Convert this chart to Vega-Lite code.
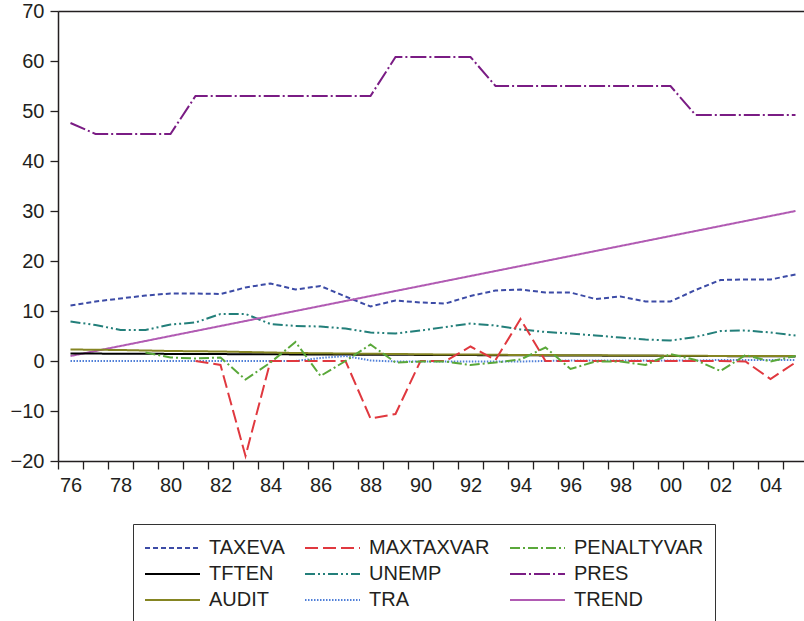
{
  "$schema": "https://vega.github.io/schema/vega-lite/v6.json",
  "autosize": "none",
  "padding": {"left": 58, "top": 11, "right": 0, "bottom": 160},
  "width": 746,
  "height": 450,
  "background": "white",
  "config": {
    "font": "Liberation Sans",
    "view": {"stroke": null},
    "axis": {"labelFont": "Liberation Sans", "labelColor": "#231f20", "domainColor": "#231f20", "tickColor": "#231f20", "domainWidth": 1.5, "tickWidth": 1.3, "grid": false, "title": null}
  },
  "data": {"values": [
    {"series":"TAXEVA","year":1976,"value":11.1},{"series":"TAXEVA","year":1977,"value":11.9},{"series":"TAXEVA","year":1978,"value":12.5},{"series":"TAXEVA","year":1979,"value":13.1},{"series":"TAXEVA","year":1980,"value":13.5},{"series":"TAXEVA","year":1981,"value":13.5},{"series":"TAXEVA","year":1982,"value":13.4},{"series":"TAXEVA","year":1983,"value":14.7},{"series":"TAXEVA","year":1984,"value":15.5},{"series":"TAXEVA","year":1985,"value":14.3},{"series":"TAXEVA","year":1986,"value":15.0},{"series":"TAXEVA","year":1987,"value":12.9},{"series":"TAXEVA","year":1988,"value":10.9},{"series":"TAXEVA","year":1989,"value":12.1},{"series":"TAXEVA","year":1990,"value":11.7},{"series":"TAXEVA","year":1991,"value":11.5},{"series":"TAXEVA","year":1992,"value":13.0},{"series":"TAXEVA","year":1993,"value":14.1},{"series":"TAXEVA","year":1994,"value":14.3},{"series":"TAXEVA","year":1995,"value":13.7},{"series":"TAXEVA","year":1996,"value":13.7},{"series":"TAXEVA","year":1997,"value":12.4},{"series":"TAXEVA","year":1998,"value":12.9},{"series":"TAXEVA","year":1999,"value":11.9},{"series":"TAXEVA","year":2000,"value":11.9},{"series":"TAXEVA","year":2001,"value":14.2},{"series":"TAXEVA","year":2002,"value":16.2},{"series":"TAXEVA","year":2003,"value":16.3},{"series":"TAXEVA","year":2004,"value":16.3},{"series":"TAXEVA","year":2005,"value":17.3},
    {"series":"UNEMP","year":1976,"value":7.9},{"series":"UNEMP","year":1977,"value":7.2},{"series":"UNEMP","year":1978,"value":6.2},{"series":"UNEMP","year":1979,"value":6.2},{"series":"UNEMP","year":1980,"value":7.3},{"series":"UNEMP","year":1981,"value":7.7},{"series":"UNEMP","year":1982,"value":9.4},{"series":"UNEMP","year":1983,"value":9.4},{"series":"UNEMP","year":1984,"value":7.4},{"series":"UNEMP","year":1985,"value":7.0},{"series":"UNEMP","year":1986,"value":6.9},{"series":"UNEMP","year":1987,"value":6.5},{"series":"UNEMP","year":1988,"value":5.7},{"series":"UNEMP","year":1989,"value":5.5},{"series":"UNEMP","year":1990,"value":6.1},{"series":"UNEMP","year":1991,"value":6.8},{"series":"UNEMP","year":1992,"value":7.5},{"series":"UNEMP","year":1993,"value":7.1},{"series":"UNEMP","year":1994,"value":6.3},{"series":"UNEMP","year":1995,"value":5.8},{"series":"UNEMP","year":1996,"value":5.5},{"series":"UNEMP","year":1997,"value":5.1},{"series":"UNEMP","year":1998,"value":4.7},{"series":"UNEMP","year":1999,"value":4.3},{"series":"UNEMP","year":2000,"value":4.1},{"series":"UNEMP","year":2001,"value":4.8},{"series":"UNEMP","year":2002,"value":6.0},{"series":"UNEMP","year":2003,"value":6.1},{"series":"UNEMP","year":2004,"value":5.7},{"series":"UNEMP","year":2005,"value":5.1},
    {"series":"PRES","year":1976,"value":47.6},{"series":"PRES","year":1977,"value":45.4},{"series":"PRES","year":1978,"value":45.4},{"series":"PRES","year":1979,"value":45.4},{"series":"PRES","year":1980,"value":45.4},{"series":"PRES","year":1981,"value":53.0},{"series":"PRES","year":1982,"value":53.0},{"series":"PRES","year":1983,"value":53.0},{"series":"PRES","year":1984,"value":53.0},{"series":"PRES","year":1985,"value":53.0},{"series":"PRES","year":1986,"value":53.0},{"series":"PRES","year":1987,"value":53.0},{"series":"PRES","year":1988,"value":53.0},{"series":"PRES","year":1989,"value":60.8},{"series":"PRES","year":1990,"value":60.8},{"series":"PRES","year":1991,"value":60.8},{"series":"PRES","year":1992,"value":60.8},{"series":"PRES","year":1993,"value":55.0},{"series":"PRES","year":1994,"value":55.0},{"series":"PRES","year":1995,"value":55.0},{"series":"PRES","year":1996,"value":55.0},{"series":"PRES","year":1997,"value":55.0},{"series":"PRES","year":1998,"value":55.0},{"series":"PRES","year":1999,"value":55.0},{"series":"PRES","year":2000,"value":55.0},{"series":"PRES","year":2001,"value":49.2},{"series":"PRES","year":2002,"value":49.2},{"series":"PRES","year":2003,"value":49.2},{"series":"PRES","year":2004,"value":49.2},{"series":"PRES","year":2005,"value":49.2},
    {"series":"TREND","year":1976,"value":1},{"series":"TREND","year":1977,"value":2},{"series":"TREND","year":1978,"value":3},{"series":"TREND","year":1979,"value":4},{"series":"TREND","year":1980,"value":5},{"series":"TREND","year":1981,"value":6},{"series":"TREND","year":1982,"value":7},{"series":"TREND","year":1983,"value":8},{"series":"TREND","year":1984,"value":9},{"series":"TREND","year":1985,"value":10},{"series":"TREND","year":1986,"value":11},{"series":"TREND","year":1987,"value":12},{"series":"TREND","year":1988,"value":13},{"series":"TREND","year":1989,"value":14},{"series":"TREND","year":1990,"value":15},{"series":"TREND","year":1991,"value":16},{"series":"TREND","year":1992,"value":17},{"series":"TREND","year":1993,"value":18},{"series":"TREND","year":1994,"value":19},{"series":"TREND","year":1995,"value":20},{"series":"TREND","year":1996,"value":21},{"series":"TREND","year":1997,"value":22},{"series":"TREND","year":1998,"value":23},{"series":"TREND","year":1999,"value":24},{"series":"TREND","year":2000,"value":25},{"series":"TREND","year":2001,"value":26},{"series":"TREND","year":2002,"value":27},{"series":"TREND","year":2003,"value":28},{"series":"TREND","year":2004,"value":29},{"series":"TREND","year":2005,"value":30},
    {"series":"TFTEN","year":1976,"value":1.5},{"series":"TFTEN","year":1977,"value":1.48},{"series":"TFTEN","year":1978,"value":1.46},{"series":"TFTEN","year":1979,"value":1.44},{"series":"TFTEN","year":1980,"value":1.42},{"series":"TFTEN","year":1981,"value":1.4},{"series":"TFTEN","year":1982,"value":1.38},{"series":"TFTEN","year":1983,"value":1.36},{"series":"TFTEN","year":1984,"value":1.34},{"series":"TFTEN","year":1985,"value":1.32},{"series":"TFTEN","year":1986,"value":1.3},{"series":"TFTEN","year":1987,"value":1.28},{"series":"TFTEN","year":1988,"value":1.26},{"series":"TFTEN","year":1989,"value":1.24},{"series":"TFTEN","year":1990,"value":1.22},{"series":"TFTEN","year":1991,"value":1.2},{"series":"TFTEN","year":1992,"value":1.18},{"series":"TFTEN","year":1993,"value":1.16},{"series":"TFTEN","year":1994,"value":1.14},{"series":"TFTEN","year":1995,"value":1.12},{"series":"TFTEN","year":1996,"value":1.1},{"series":"TFTEN","year":1997,"value":1.08},{"series":"TFTEN","year":1998,"value":1.06},{"series":"TFTEN","year":1999,"value":1.04},{"series":"TFTEN","year":2000,"value":1.02},{"series":"TFTEN","year":2001,"value":1.0},{"series":"TFTEN","year":2002,"value":0.98},{"series":"TFTEN","year":2003,"value":0.96},{"series":"TFTEN","year":2004,"value":0.94},{"series":"TFTEN","year":2005,"value":0.92},
    {"series":"AUDIT","year":1976,"value":2.3},{"series":"AUDIT","year":1977,"value":2.25},{"series":"AUDIT","year":1978,"value":2.2},{"series":"AUDIT","year":1979,"value":2.1},{"series":"AUDIT","year":1980,"value":2.0},{"series":"AUDIT","year":1981,"value":1.95},{"series":"AUDIT","year":1982,"value":1.9},{"series":"AUDIT","year":1983,"value":1.8},{"series":"AUDIT","year":1984,"value":1.7},{"series":"AUDIT","year":1985,"value":1.6},{"series":"AUDIT","year":1986,"value":1.55},{"series":"AUDIT","year":1987,"value":1.5},{"series":"AUDIT","year":1988,"value":1.45},{"series":"AUDIT","year":1989,"value":1.4},{"series":"AUDIT","year":1990,"value":1.35},{"series":"AUDIT","year":1991,"value":1.3},{"series":"AUDIT","year":1992,"value":1.3},{"series":"AUDIT","year":1993,"value":1.25},{"series":"AUDIT","year":1994,"value":1.2},{"series":"AUDIT","year":1995,"value":1.2},{"series":"AUDIT","year":1996,"value":1.15},{"series":"AUDIT","year":1997,"value":1.15},{"series":"AUDIT","year":1998,"value":1.1},{"series":"AUDIT","year":1999,"value":1.1},{"series":"AUDIT","year":2000,"value":1.05},{"series":"AUDIT","year":2001,"value":1.05},{"series":"AUDIT","year":2002,"value":1.0},{"series":"AUDIT","year":2003,"value":1.0},{"series":"AUDIT","year":2004,"value":1.0},{"series":"AUDIT","year":2005,"value":1.0},
    {"series":"TRA","year":1976,"value":0},{"series":"TRA","year":1977,"value":0},{"series":"TRA","year":1978,"value":0},{"series":"TRA","year":1979,"value":0},{"series":"TRA","year":1980,"value":0},{"series":"TRA","year":1981,"value":0},{"series":"TRA","year":1982,"value":0},{"series":"TRA","year":1983,"value":0},{"series":"TRA","year":1984,"value":0},{"series":"TRA","year":1985,"value":0},{"series":"TRA","year":1986,"value":0.6},{"series":"TRA","year":1987,"value":1.0},{"series":"TRA","year":1988,"value":0.1},{"series":"TRA","year":1989,"value":-0.1},{"series":"TRA","year":1990,"value":-0.1},{"series":"TRA","year":1991,"value":-0.1},{"series":"TRA","year":1992,"value":-0.1},{"series":"TRA","year":1993,"value":-0.1},{"series":"TRA","year":1994,"value":-0.1},{"series":"TRA","year":1995,"value":0},{"series":"TRA","year":1996,"value":0.1},{"series":"TRA","year":1997,"value":0.1},{"series":"TRA","year":1998,"value":0.1},{"series":"TRA","year":1999,"value":0.1},{"series":"TRA","year":2000,"value":0.1},{"series":"TRA","year":2001,"value":0.1},{"series":"TRA","year":2002,"value":0.2},{"series":"TRA","year":2003,"value":0.2},{"series":"TRA","year":2004,"value":0.2},{"series":"TRA","year":2005,"value":0.2},
    {"series":"MAXTAXVAR","year":1981,"value":0},{"series":"MAXTAXVAR","year":1982,"value":-0.8},{"series":"MAXTAXVAR","year":1983,"value":-19.0},{"series":"MAXTAXVAR","year":1984,"value":0},{"series":"MAXTAXVAR","year":1985,"value":0},{"series":"MAXTAXVAR","year":1986,"value":0},{"series":"MAXTAXVAR","year":1987,"value":0},{"series":"MAXTAXVAR","year":1988,"value":-11.5},{"series":"MAXTAXVAR","year":1989,"value":-10.6},{"series":"MAXTAXVAR","year":1990,"value":0},{"series":"MAXTAXVAR","year":1991,"value":0},{"series":"MAXTAXVAR","year":1992,"value":2.9},{"series":"MAXTAXVAR","year":1993,"value":0.2},{"series":"MAXTAXVAR","year":1994,"value":8.4},{"series":"MAXTAXVAR","year":1995,"value":0},{"series":"MAXTAXVAR","year":1996,"value":0},{"series":"MAXTAXVAR","year":1997,"value":0},{"series":"MAXTAXVAR","year":1998,"value":0},{"series":"MAXTAXVAR","year":1999,"value":0},{"series":"MAXTAXVAR","year":2000,"value":0},{"series":"MAXTAXVAR","year":2001,"value":0},{"series":"MAXTAXVAR","year":2002,"value":0},{"series":"MAXTAXVAR","year":2003,"value":-0.1},{"series":"MAXTAXVAR","year":2004,"value":-3.6},{"series":"MAXTAXVAR","year":2005,"value":-0.3},
    {"series":"PENALTYVAR","year":1979,"value":1.7},{"series":"PENALTYVAR","year":1980,"value":0.7},{"series":"PENALTYVAR","year":1981,"value":0.5},{"series":"PENALTYVAR","year":1982,"value":0.7},{"series":"PENALTYVAR","year":1983,"value":-3.7},{"series":"PENALTYVAR","year":1984,"value":-0.3},{"series":"PENALTYVAR","year":1985,"value":3.8},{"series":"PENALTYVAR","year":1986,"value":-3.0},{"series":"PENALTYVAR","year":1987,"value":0.0},{"series":"PENALTYVAR","year":1988,"value":3.3},{"series":"PENALTYVAR","year":1989,"value":-0.3},{"series":"PENALTYVAR","year":1990,"value":-0.1},{"series":"PENALTYVAR","year":1991,"value":-0.1},{"series":"PENALTYVAR","year":1992,"value":-0.8},{"series":"PENALTYVAR","year":1993,"value":-0.3},{"series":"PENALTYVAR","year":1994,"value":0.3},{"series":"PENALTYVAR","year":1995,"value":2.7},{"series":"PENALTYVAR","year":1996,"value":-1.6},{"series":"PENALTYVAR","year":1997,"value":-0.1},{"series":"PENALTYVAR","year":1998,"value":-0.1},{"series":"PENALTYVAR","year":1999,"value":-0.8},{"series":"PENALTYVAR","year":2000,"value":1.4},{"series":"PENALTYVAR","year":2001,"value":0.2},{"series":"PENALTYVAR","year":2002,"value":-2.0},{"series":"PENALTYVAR","year":2003,"value":1.2},{"series":"PENALTYVAR","year":2004,"value":-0.1},{"series":"PENALTYVAR","year":2005,"value":1.0}
  ]},
  "resolve": {"axis": {"x": "independent"}},
  "layer": [
    {
      "mark": {"type": "line", "clip": true},
      "encoding": {
        "x": {"field": "year", "type": "quantitative",
          "scale": {"domain": [1975.5, 2005.34], "nice": false, "zero": false},
          "axis": {"orient": "bottom", "values": [1975.5,1976.5,1977.5,1978.5,1979.5,1980.5,1981.5,1982.5,1983.5,1984.5,1985.5,1986.5,1987.5,1988.5,1989.5,1990.5,1991.5,1992.5,1993.5,1994.5,1995.5,1996.5,1997.5,1998.5,1999.5,2000.5,2001.5,2002.5,2003.5,2004.5],
            "labelExpr": "(datum.value + 0.5) % 2 == 0 ? substring(toString(datum.value + 0.5), 2, 4) : ''",
            "labelOffset": 12.5, "labelOverlap": false, "labelFontSize": 20, "tickSize": 8, "labelPadding": 6, "labelFlush": false, "labelBound": false}},
        "y": {"field": "value", "type": "quantitative",
          "scale": {"domain": [-20, 70], "nice": false, "zero": false},
          "axis": {"values": [-20,-10,0,10,20,30,40,50,60,70], "labelExpr": "replace(datum.label, '-', '−')", "labelFontSize": 20, "tickSize": 8, "labelPadding": 6}},
        "color": {"field": "series", "type": "nominal",
          "scale": {"domain": ["TAXEVA","MAXTAXVAR","PENALTYVAR","TFTEN","UNEMP","PRES","AUDIT","TRA","TREND"],
                    "range": ["#3C4BA6","#E0383F","#5AA83A","#000000","#237F7A","#7A1C84","#858522","#4F7FD8","#B15BB3"]},
          "legend": {"title": null, "orient": "none", "legendX": 75, "legendY": 513, "columns": 3, "direction": "horizontal",
            "symbolType": "stroke", "symbolSize": 3025, "symbolStrokeWidth": 2, "clipHeight": 26, "rowPadding": 0, "columnPadding": 19,
            "labelFontSize": 20, "labelFont": "Liberation Sans", "labelColor": "#231f20", "labelOffset": 8, "padding": 11,
            "strokeColor": "#333333", "fillColor": "white", "labelLimit": 300}},
        "strokeDash": {"field": "series", "type": "nominal",
          "scale": {"domain": ["TAXEVA","MAXTAXVAR","PENALTYVAR","TFTEN","UNEMP","PRES","AUDIT","TRA","TREND"],
                    "range": [[5,3],[13,5],[10,3,2,3],[1,0],[10,3,2,3,2,3],[16,3,2,3],[1,0],[1.5,1.5],[1,0]]},
          "legend": {"title": null}},
        "strokeWidth": {"field": "series", "type": "nominal",
          "scale": {"domain": ["TAXEVA","MAXTAXVAR","PENALTYVAR","TFTEN","UNEMP","PRES","AUDIT","TRA","TREND"],
                    "range": [2, 2, 2, 2.2, 2, 2, 2.6, 2, 2]},
          "legend": null}
      }
    },
    {
      "mark": {"type": "line", "opacity": 0},
      "encoding": {
        "x": {"field": "year", "type": "quantitative",
          "axis": {"orient": "top", "labels": false, "ticks": false, "domain": true}},
        "y": {"field": "value", "type": "quantitative"}
      }
    }
  ]
}
